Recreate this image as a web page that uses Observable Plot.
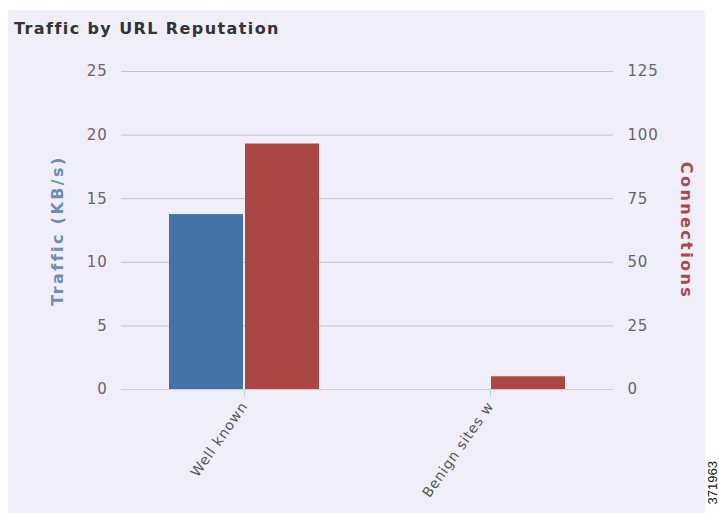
<!DOCTYPE html>
<html>
<head>
<meta charset="utf-8">
<script src="https://cdn.jsdelivr.net/npm/d3@7"></script>
<script src="https://cdn.jsdelivr.net/npm/@observablehq/plot@0.6"></script>
<style>
  html, body { margin: 0; padding: 0; background: #ffffff; }
  #wrap { position: relative; width: 719px; height: 513px; overflow: hidden; font-family: "DejaVu Sans", sans-serif; }
  #panel { position: absolute; left: 8px; top: 10px; width: 697px; height: 503px; background: #f0eef9; }
  #title { position: absolute; left: 14px; top: 19px; font: bold 16px "DejaVu Sans", sans-serif; letter-spacing: 1.4px; color: #333; white-space: nowrap; }
  #chart { position: absolute; left: 0; top: 0; }
  #chart svg text { letter-spacing: 0.8px; }
  #chart svg .axlabel text { letter-spacing: 2.4px; }
  #fig { position: absolute; left: 705px; top: 461px; font: 13px "Liberation Sans", Arial, sans-serif; color: #111; writing-mode: vertical-rl; transform: rotate(180deg); }
</style>
</head>
<body>
<div id="wrap">
  <div id="panel"></div>
  <div id="chart"></div>
  <div id="title">Traffic by URL Reputation</div>
  <div id="fig">371963</div>
</div>
<script>
const categories = ["Well known", "Benign sites w"];
const seriesNames = ["Traffic (KB/s)", "Connections"];
const traffic = [13.75, 0];
const connections = [96.5, 5];
const leftTicks = [0, 5, 10, 15, 20, 25];
const rightTicks = [0, 25, 50, 75, 100, 125];
const leftMax = 25, rightMax = 125;

const ratio = leftMax / rightMax;
const rows = categories.flatMap((c, i) => [
  { category: c, series: seriesNames[0], value: traffic[i] },
  { category: c, series: seriesNames[1], value: connections[i] * ratio }
]);
const leftLabel = [{ category: categories[0], text: seriesNames[0] }];
const rightLabel = [{ category: categories[categories.length - 1], text: seriesNames[1] }];

const chart = Plot.plot({
  width: 719,
  height: 513,
  marginTop: 71,
  marginBottom: 124,
  marginLeft: 120,
  marginRight: 106,
  style: { background: "transparent", fontFamily: "DejaVu Sans, sans-serif", overflow: "visible" },
  fx: { domain: categories, padding: 0, label: null },
  x: { domain: seriesNames, paddingInner: 0.027, paddingOuter: 0.63, axis: null },
  y: { domain: [0, leftMax], axis: null },
  color: { domain: seriesNames, range: ["#4572A7", "#AA4643"] },
  marks: [
    Plot.gridY(leftTicks.filter(t => t > 0), { stroke: "#c4c2cc", strokeOpacity: 1, strokeWidth: 1 }),
    Plot.ruleY([0], { stroke: "#c3d3e3", strokeWidth: 1 }),
    Plot.axisY(leftTicks, { anchor: "left", tickSize: 0, tickPadding: 14, fontSize: 15, fill: "#666", label: null }),
    Plot.text(leftLabel, { fx: "category", text: "text", frameAnchor: "left", textAnchor: "middle", rotate: -90, dx: -64, fill: "#6d8db2", fontSize: 16, fontWeight: "bold", className: "axlabel" }),
    Plot.axisY(rightTicks.map(t => t * ratio), { anchor: "right", tickSize: 0, tickPadding: 14, fontSize: 15, fill: "#666", tickFormat: d => Math.round(d / ratio), label: null }),
    Plot.text(rightLabel, { fx: "category", text: "text", frameAnchor: "right", textAnchor: "middle", rotate: 90, dx: 73, fill: "#b04646", fontSize: 16, fontWeight: "bold", className: "axlabel" }),
    Plot.axisFx({ anchor: "bottom", tickRotate: -55, tickSize: 8, tickPadding: 6, stroke: "#c3d3e3", fill: "#555", fontSize: 14, label: null }),
    Plot.barY(rows, { fx: "category", x: "series", y: "value", fill: "series" })
  ]
});
document.getElementById("chart").appendChild(chart);
</script>
</body>
</html>
